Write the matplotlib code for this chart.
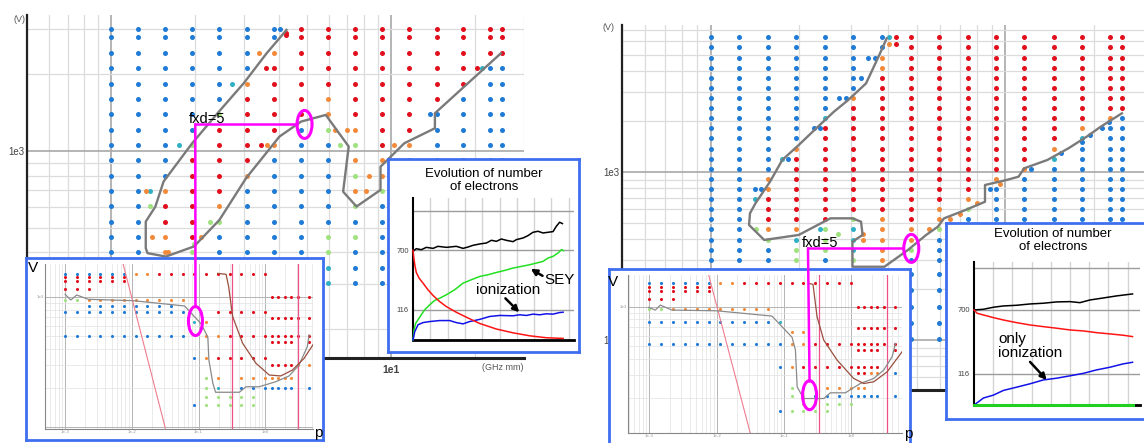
import matplotlib
matplotlib.use("Agg")
import matplotlib.pyplot as plt
from matplotlib.patches import Ellipse, ConnectionPatch
from matplotlib.transforms import ScaledTranslation
from matplotlib.ticker import LogLocator, NullFormatter, NullLocator

plt.rcParams["font.family"] = ["Liberation Sans", "DejaVu Sans"]

# ---------------------------------------------------------------- data
# f*d sampling columns (GHz mm), shared by both maps
fd_cols = [1.0, 1.25, 1.56, 1.95, 2.44, 3.05, 3.81, 4.77, 5.96, 7.45,
           9.31, 11.6, 14.6, 18.2, 22.7, 25.0]

# left map: voltage rows (V) and outcome code per column
# b = no discharge, r = multipactor, o / g / c = transition cases
left_rows = [3000, 2786, 2425, 2111, 1838, 1600, 1393, 1213, 1056, 919,
             800, 696, 606, 528, 459, 400, 348, 303]
left_codes = [
    "bbbbbbbrrrrrrrrr",
    "bbbbbbbrrrrrrrrr",
    "bbbbbborrrrrrrrr",
    "bbbbbbrrrrrrrrbb",
    "bbbbborrrrrrrrbb",
    "bbbbbrrrorrrrbbb",
    "bbbbgrrrorrrbbbb",
    "bbbbrrrbgorrbbbb",
    "bbbgrrobbgrobbbb",
    "bbbrrrbbboobbbbb",
    "bbbrrobbbgobbbbb",
    "bborrbbbbogbbbbb",
    "bbrrobbbbgbbbbbb",
    "bbrrgbbbbbbbbbbb",
    "bborbbbbggbbbbbb",
    "bbogbbbbgbbbbbbb",
    "bbbbbbbbcbbbbbbb",
    "bbbbbbbbcbbbbbbb",
]
# refined samples taken near the boundary
left_extra_fd = [4.02, 4.24, 4.24, 3.38, 3.59, 2.71, 3.43, 3.60, 6.34, 6.97,
                 6.60, 8.17, 8.40, 10.3, 13.8, 20.3, 21.3, 1.33, 1.38, 1.75,
                 1.38, 1.40, 1.60, 1.98, 2.10, 2.25]
left_extra_v = [3000, 2900, 2850, 2425, 2111, 1838, 1056, 1056, 1213, 1213,
                1056, 696, 800, 1056, 1393, 2111, 2111, 696, 696, 1056,
                606, 459, 400, 430, 459, 528]
left_extra_c = "brrorcrooogooobrcoccgoogog"
# multipactor boundary
left_bound_fd = [4.24, 3.60, 2.98, 2.43, 1.95, 1.54, 1.44, 1.33, 1.33, 1.35,
                 1.57, 1.98, 2.44, 3.04, 4.00, 4.78, 5.86, 7.08, 6.76, 7.55,
                 9.2, 9.2, 11.2, 14.4, 14.4, 24.8]
left_bound_v = [2982, 2415, 1842, 1426, 1072, 758, 605, 528, 415, 397,
                385, 422, 536, 782, 1138, 1303, 1384, 1040, 692, 605,
                703, 867, 1072, 1227, 1405, 2415]

# right map
right_rows = [6334, 5514, 4800, 4179, 3638, 3167, 2757, 2400, 2089, 1819,
              1583, 1378, 1200, 1045, 909, 792, 689, 600, 522, 455,
              396, 345, 300, 247, 198, 158, 126, 101]
right_codes = [
    "bbbbbbbrrrrrrrrr",
    "bbbbbbbrrrrrrrrr",
    "bbbbbborrrrrrrrr",
    "bbbbbborrrrrrrrr",
    "bbbbbbrrrrrrrrrr",
    "bbbbbbrrrrrrrrrr",
    "bbbbborrrrrrrrrr",
    "bbbbbrrrrrrrrrrr",
    "bbbbcrrrrrrrrrob",
    "bbbbrrrrrrrrrobb",
    "bbbbrrrrrrrrrcbb",
    "bbborrrrrrrrobbb",
    "bbbrrrrrrrrrcbbb",
    "bbbrrrrrrrrobbbb",
    "bborrrrrrrobbbbb",
    "bborrrrrrrbbbbbb",
    "bbrrrrrrrobbbbbb",
    "bbrrrrrrogbbbbbb",
    "bbrrrgorobbbbbbb",
    "bboogcoogbbbbbbb",
    "bbgcgcoobbbbbbbb",
    "bbbggcogbbbbbbbb",
    "bbbgbgobbbbbbbbb",
    "bbbbbbbbbbbbbbbb",
    "bbbbbbbbbbbbbbbb",
    "bbbbbbbbbbbbbbbb",
    "bbbbbbbbbbbbbbbb",
    "bbbbbbbbbbbbbbbb",
]
right_extra_fd = [3.42, 3.61, 3.23, 2.73, 2.89, 2.25, 2.35, 1.75, 1.83, 1.41,
                  1.48, 1.41, 8.9, 12.2, 15.5, 18.3, 19.4, 21.3, 22.6, 4.03,
                  4.26, 4.26, 4.03, 1.42, 2.35, 2.70, 3.30, 3.30, 5.5, 6.5,
                  7.0, 8.0, 9.6]
right_extra_v = [4800, 4800, 3638, 2757, 2757, 1819, 1819, 1200, 1200, 792,
                 792, 689, 792, 1045, 1300, 1500, 1650, 1819, 1980, 6334,
                 6334, 5800, 5800, 455, 455, 430, 430, 396, 455, 522,
                 560, 650, 850]
right_extra_c = "bbbbbbbcbbbcbbbbbbbcrrogcgoooooooc"
right_bound_fd = [3.96, 3.76, 3.37, 2.93, 2.62, 2.22, 1.99, 1.75, 1.59, 1.42,
                  1.36, 1.35, 1.52, 1.99, 2.55, 3.03, 3.24, 3.28, 3.03, 3.03,
                  3.89, 4.67, 5.39, 5.91, 6.2, 7.33, 8.54, 8.54, 10.1, 11.1,
                  11.6, 13.9, 16.4, 18.9, 21.1, 24.9]
right_bound_v = [6250, 5090, 3370, 2680, 2285, 1738, 1447, 1179, 875, 652,
                 568, 484, 394, 422, 530, 530, 506, 422, 385, 273,
                 273, 343, 422, 473, 530, 594, 665, 837, 896, 938,
                 1052, 1179, 1384, 1622, 1860, 2235]

# pressure maps (inset): pressure columns and rows
p_cols = [0.001, 0.0015, 0.00225, 0.00338, 0.00506, 0.00759, 0.0114, 0.0171,
          0.0256, 0.0384, 0.0577, 0.0865, 0.130, 0.195, 0.292, 0.438, 0.657, 0.985]
p_fine = [1.25, 1.56, 1.95, 2.44, 3.05, 4.5]

lmap_rows = [1500, 1417, 1335, 1146, 948, 853, 763, 639, 501, 337, 237, 200, 171, 148]
lmap_codes = [
    "bbbbbboorrrrrrrrrr",
    "rrrrrr............",
    "rrrrrr............",
    "rrr...............",
    "ggooooooooo.......",
    "..bbbbbbbb........",
    "bbbbbbbbbbb..rrrrr",
    "...........co.....",
    "bbbbbbbbbbb.oorrrr",
    "...........borrrrr",
    "............go.ooo",
    "............gc.bbb",
    "............ggggg.",
    "...........bggggg.",
]
lmap_fine_rows = [1000, 690, 501, 453, 300, 237, 200]
lmap_fine_codes = ["rrrrrr", "rrrrrr", "rrrrrr", "rrrr.r", "rrrroo", "oooo..", "bbbb.b"]
lmap_bound_p = [0.001, 0.00122, 0.00149, 0.00223, 0.0105, 0.0618, 0.0822, 0.11,
                0.138, 0.143, 0.164, 0.18, 0.41, 0.515, 0.813, 1.44, 2.28, 3.21, 4.28, 4.54]
lmap_bound_v = [1049, 948, 1036, 960, 937, 853, 728, 620, 490, 327, 217, 185,
                185, 204, 204, 223, 247, 300, 415, 511]
lmap_curve_p = [0.194, 0.259, 0.283, 0.325, 0.458, 0.726, 1.15, 1.71, 2.55, 3.82, 5.38]
lmap_curve_v = [1520, 1494, 1200, 706, 441, 309, 251, 247, 274, 337, 441]
lmap_line_p = [0.0074, 0.0318]
lmap_line_v = [1800, 98]
lmap_marks = [0.314, 3.14]

rmap_rows = [1513, 1410, 1328, 1140, 955, 758, 640, 514, 346, 236, 207, 179, 157]
rmap_codes = [
    "bbbbbboorrrrrrrrrr",
    "rrrrrr............",
    "rrrrrr............",
    "rrr...............",
    "ggooooooooo.......",
    "bbbbbbbbbbbc......",
    "............oo....",
    "bbbbbbbbbbbboorrrr",
    "...........borrrrr",
    "............gboooo",
    "............ggbbbb",
    ".............ggggg",
    "...........bgggg..",
]
rmap_fine_rows = [1000, 682, 514, 464, 346, 307, 236, 207]
rmap_fine_codes = ["rrrrrr", "rrrrrr", "rrrrrr", "rrrr.r", "rrrr..", "rroo.b", "oo....", "bbbb.b"]
rmap_bound_p = [0.000977, 0.00123, 0.00146, 0.00217, 0.0101, 0.0665, 0.0938, 0.132,
                0.148, 0.157, 0.196, 0.389, 0.489, 0.817, 1.36, 2.15, 3.03, 4.04, 4.53]
rmap_bound_v = [990, 943, 1030, 943, 931, 848, 702, 582, 464, 242, 197, 197,
                218, 218, 257, 281, 326, 413, 523]
rmap_curve_p = [0.233, 0.270, 0.310, 0.389, 0.615, 1.086, 1.531, 2.153, 3.404, 5.662]
rmap_curve_v = [1513, 1487, 838, 555, 389, 281, 257, 265, 316, 450]
rmap_line_p = [0.0076, 0.0317]
rmap_line_v = [1760, 106]
rmap_marks = [0.33, 3.35]

# electron population versus time, SEY + ionization run
evoL_black_t = [0, 1.9, 4.8, 7.7, 11.6, 14.4, 19.3, 25, 28.9, 31.8, 34.7, 38.5, 42.4, 45.3,
                48.2, 51, 53.9, 57.8, 59.7, 63.6, 66.4, 69.3, 72.2, 75.1, 78, 80.9, 82.8,
                84.7, 86.3]
evoL_black = [680, 736, 714, 766, 743, 790, 766, 790, 743, 774, 815, 848, 874, 948,
              919, 986, 948, 910, 967, 1017, 1091, 1207, 1245, 1183, 1207, 1233, 1449,
              1635, 1570]
evoL_red_t = [0, 0.6, 1.2, 1.9, 3.5, 5.8, 8.7, 11.6, 15.4, 19.3, 25, 30.8, 38.5, 48.2,
              57.8, 67.4, 77, 86.7]
evoL_red = [700, 527, 431, 359, 303, 260, 212, 179, 149, 128, 108, 93, 77, 65,
            58, 53, 50, 49]
evoL_green_t = [0, 0.6, 1.5, 2.9, 4.8, 6.7, 9.6, 12.5, 15.4, 19.3, 24.1, 28.9, 33.7, 38.5,
                43.3, 48.2, 53, 57.8, 62.6, 67.4, 71.3, 75.1, 78, 80.9, 83.8, 85.7, 87]
evoL_green = [46.7, 63, 77, 86, 100, 116, 135, 154, 165, 183, 213, 260, 288, 318,
              335, 359, 382, 410, 431, 453, 477, 501, 555, 584, 646, 714, 693]
evoL_blue_t = [0, 1, 2.9, 5.8, 9.6, 15.4, 21.2, 25, 28.9, 32.7, 38.5, 44.3, 50.1, 57.8,
               61.6, 65.5, 69.3, 73.2, 77, 80.9, 84.7, 86.7]
evoL_blue = [46.7, 60, 74, 79, 81.5, 84, 84, 79, 76, 81.5, 87, 95, 98, 97,
             100, 98, 102, 100, 103, 102, 107, 108]

# ionization-only run
evoR_black_t = [0, 4.9, 10.1, 15.3, 22.2, 29.2, 36.1, 43.1, 50, 55.2, 60.4, 67.4, 74.3, 82.6]
evoR_black = [700, 713, 755, 783, 798, 828, 845, 877, 884, 859, 926, 980, 1038, 1097]
evoR_red_t = [0, 1.6, 4.9, 10.1, 15.3, 22.2, 29.2, 36.1, 43.1, 50, 57, 63.9, 70.8, 77.8, 82.6]
evoR_red = [700, 638, 608, 564, 528, 490, 459, 438, 419, 399, 388, 370, 357, 344, 331]
evoR_blue_t = [0, 2.3, 4.9, 10.1, 15.3, 22.2, 29.2, 36.1, 43.1, 50, 57, 63.9, 70.8, 77.8, 82.6]
evoR_blue = [48.5, 53, 59, 64, 73, 80, 88, 98, 103, 110, 118, 130, 140, 154, 161]
evoR_green_t = [0, 82.6]
evoR_green = [48.5, 48.5]

# ---------------------------------------------------------------- style
W, H = 1144, 443
fig = plt.figure(figsize=(W / 100, H / 100), dpi=100)

DOT = {"b": "#1f7bd6", "c": "#2fb0c4", "r": "#e2101c", "o": "#f28a3a", "g": "#9fe27e"}
BORDER = "#3f6ff0"
MAGENTA = "#ff00ff"
GRAYLINE = "#7a7a7a"


def frame(x0, y0, x1, y1):
    """Pixel box with top-left origin -> figure-fraction rect."""
    return [x0 / W, 1 - y1 / H, (x1 - x0) / W, (y1 - y0) / H]


def pos(x, y):
    return x / W, 1 - y / H


def grid_dots(ax, cols, rows, codes, size):
    pts = {k: ([], []) for k in DOT}
    for v, line in zip(rows, codes):
        for p, c in zip(cols, line):
            if c in DOT:
                pts[c][0].append(p)
                pts[c][1].append(v)
    for c, (xs, ys) in pts.items():
        if xs:
            ax.scatter(xs, ys, s=size, color=DOT[c], linewidths=0, zorder=2)


def loose_dots(ax, xs, ys, codes, size):
    for c in DOT:
        sel = [(p, v) for p, v, k in zip(xs, ys, codes) if k == c]
        if sel:
            ax.scatter([s[0] for s in sel], [s[1] for s in sel], s=size,
                       color=DOT[c], linewidths=0, zorder=2)


def log_grid(ax, major_c, minor_c, major_lw, minor_lw):
    for axis in (ax.xaxis, ax.yaxis):
        axis.set_minor_locator(LogLocator(10, subs=range(2, 10), numticks=30))
        axis.set_minor_formatter(NullFormatter())
    ax.grid(True, which="major", color=major_c, lw=major_lw)
    ax.grid(True, which="minor", color=minor_c, lw=minor_lw)
    ax.set_axisbelow(True)
    ax.tick_params(which="both", length=0)


def ring(ax, x, y, w_px, h_px):
    e = Ellipse((0, 0), w_px / 100, h_px / 100, fill=False, ec=MAGENTA, lw=2.2,
                transform=fig.dpi_scale_trans + ScaledTranslation(x, y, ax.transData),
                zorder=5)
    fig.add_artist(e)


def white_box(box):
    b = fig.add_axes(frame(*box), zorder=2)
    b.set_xticks([])
    b.set_yticks([])
    b.set_facecolor("white")
    for s in b.spines.values():
        s.set_color(BORDER)
        s.set_linewidth(2)
    return b


# ---------------------------------------------------------------- f*d maps
def fd_map(box, xlim, ylim, rows, codes, ex_fd, ex_v, ex_c, b_fd, b_v):
    ax = fig.add_axes(frame(*box), zorder=1)
    ax.set_xscale("log")
    ax.set_yscale("log")
    ax.set_xticks([1, 10], labels=["", "1e1"])
    ax.set_yticks([100, 1000], labels=["1e2", "1e3"])
    log_grid(ax, "#a8a8a8", "#dcdcdc", 1.2, 0.9)
    ax.set_xlim(*xlim)
    ax.set_ylim(*ylim)
    ax.tick_params(axis="x", labelsize=7.5, labelcolor="#444", pad=5)
    ax.tick_params(axis="y", labelsize=7, labelcolor="#444", pad=2)
    for lab in ax.get_xticklabels():
        lab.set_fontweight("bold")
    for side in ("top", "right"):
        ax.spines[side].set_visible(False)
    ax.spines["left"].set_color("#222")
    ax.spines["left"].set_linewidth(1.6)
    ax.spines["bottom"].set_color("#222")
    ax.spines["bottom"].set_linewidth(2.2)
    grid_dots(ax, fd_cols, rows, codes, 13)
    loose_dots(ax, ex_fd, ex_v, ex_c, 13)
    ax.plot(b_fd, b_v, color=GRAYLINE, lw=1.7, zorder=3)
    ax.annotate("(GHz mm)", xy=(1, 0), xycoords="axes fraction", xytext=(0, -7),
                textcoords="offset points", ha="right", va="center",
                fontsize=6.5, color="#555")
    return ax


axL = fd_map((27, 15, 524, 358), (0.5, 30), (154, 3413), left_rows, left_codes,
             left_extra_fd, left_extra_v, left_extra_c, left_bound_fd, left_bound_v)
axR = fd_map((622, 25, 1144, 390), (0.5, 29.6), (50.4, 7500), right_rows, right_codes,
             right_extra_fd, right_extra_v, right_extra_c, right_bound_fd, right_bound_v)
fig.text(*pos(19, 19), "(V)", ha="center", va="center", fontsize=6.5, color="#555")
fig.text(*pos(609, 27), "(V)", ha="center", va="center", fontsize=6.5, color="#555")


# ---------------------------------------------------------------- pressure insets
def pv_inset(box, axbox, xlim, ylim, rows, codes, frows, fcodes,
             bp, bv, cp, cv, lp, lv, marks, vxy, pxy):
    white_box(box)
    ax = fig.add_axes(frame(*axbox), zorder=3)
    ax.set_xscale("log")
    ax.set_yscale("log")
    ax.set_xticks([1e-3, 1e-2, 1e-1, 1], labels=["1e-3", "1e-2", "1e-1", "1e0"])
    ax.set_yticks([100, 1000], labels=["", "1e3"])
    log_grid(ax, "#b4b4b4", "#e2e2e2", 0.7, 0.5)
    ax.set_xlim(*xlim)
    ax.set_ylim(*ylim)
    ax.tick_params(labelsize=3.2, labelcolor="#999", pad=1)
    for side in ("top", "right"):
        ax.spines[side].set_visible(False)
    for side in ("left", "bottom"):
        ax.spines[side].set_color("#888")
        ax.spines[side].set_linewidth(0.8)
    grid_dots(ax, p_cols, rows, codes, 5)
    grid_dots(ax, p_fine, frows, fcodes, 5)
    for m in marks:
        ax.axvline(m, color="#f0508a", lw=0.9, zorder=3)
    ax.plot(lp, lv, color="#ee7c8e", lw=0.8, zorder=3)
    ax.plot(bp, bv, color="#8a8a8a", lw=0.9, zorder=4)
    ax.plot(cp, cv, color="#9a4e3e", lw=0.9, zorder=4)
    fig.text(*pos(*vxy), "V", ha="center", va="center", fontsize=11, zorder=6)
    fig.text(*pos(*pxy), "p", ha="center", va="center", fontsize=11, zorder=6)
    return ax


insL = pv_inset((26, 258, 323, 440), (45, 264, 313, 429), (5.0e-4, 5.2), (96.5, 1794),
                lmap_rows, lmap_codes, lmap_fine_rows, lmap_fine_codes,
                lmap_bound_p, lmap_bound_v, lmap_curve_p, lmap_curve_v,
                lmap_line_p, lmap_line_v, lmap_marks, (33, 268), (318, 433))
insR = pv_inset((609, 269, 910, 447), (628, 275, 902, 433), (4.83e-4, 5.66), (107, 1755),
                rmap_rows, rmap_codes, rmap_fine_rows, rmap_fine_codes,
                rmap_bound_p, rmap_bound_v, rmap_curve_p, rmap_curve_v,
                rmap_line_p, rmap_line_v, rmap_marks, (613, 282), (908, 434))


# ---------------------------------------------------------------- electron evolution insets
def evo_inset(box, axbox, title_xy, ylim, xmax, curves):
    white_box(box)
    ax = fig.add_axes(frame(*axbox), zorder=3)
    ax.set_yscale("log")
    ax.set_ylim(*ylim)
    ax.set_xlim(0, xmax)
    ax.set_yticks([116, 700, 2280], labels=["116", "700", ""])
    ax.yaxis.set_minor_locator(NullLocator())
    ax.set_xticks([t for t in range(10, 100, 10) if t < xmax], labels=[])
    ax.grid(True, axis="x", color="#d4d4d4", lw=1)
    ax.grid(True, axis="y", color="#9c9c9c", lw=1)
    ax.set_axisbelow(True)
    ax.tick_params(length=0, labelsize=5.5, labelcolor="#444", pad=3)
    for side in ("top", "right"):
        ax.spines[side].set_visible(False)
    ax.spines["left"].set_color("black")
    ax.spines["left"].set_linewidth(1.5)
    ax.spines["bottom"].set_color("black")
    ax.spines["bottom"].set_linewidth(2)
    for t, v, c, lw in curves:
        ax.plot(t, v, color=c, lw=lw, zorder=3, clip_on=False)
    fig.text(*pos(*title_xy), "Evolution of number\nof electrons", ha="center",
             va="center", fontsize=9.5, zorder=6)
    return ax


evoL = evo_inset((388, 159, 579, 352), (413, 198, 574, 340), (484, 180.5), (46.7, 3400), 93,
                 [(evoL_black_t, evoL_black, "black", 1.1),
                  (evoL_green_t, evoL_green, "#22e022", 1.1),
                  (evoL_blue_t, evoL_blue, "#1212e8", 1.1),
                  (evoL_red_t, evoL_red, "#ff1414", 1.1)])
evoR = evo_inset((946, 223, 1160, 419), (974, 262, 1140, 405), (1053, 240.5), (48.5, 2690), 86.5,
                 [(evoR_black_t, evoR_black, "black", 1.1),
                  (evoR_red_t, evoR_red, "#ff1414", 1.1),
                  (evoR_blue_t, evoR_blue, "#1212e8", 1.1),
                  (evoR_green_t, evoR_green, "#22d022", 2.2)])

arrow = dict(arrowstyle="-|>", color="black", lw=1.8, mutation_scale=9,
             shrinkA=0, shrinkB=0)
fig.text(*pos(560, 280), "SEY", ha="center", va="center", fontsize=11, zorder=6)
evoL.annotate("", xy=(68, 400), xytext=(8.5, -5), textcoords="offset points",
              arrowprops=arrow, zorder=6)
fig.text(*pos(508, 290), "ionization", ha="center", va="center", fontsize=11, zorder=6)
evoL.annotate("", xy=(61.4, 108), xytext=(-10, 10), textcoords="offset points",
              arrowprops=arrow, zorder=6)
fig.text(*pos(998, 346), "only\nionization", ha="left", va="center", fontsize=11,
         linespacing=1.05, zorder=6)
evoR.annotate("", xy=(37.9, 98), xytext=(-12, 13), textcoords="offset points",
              arrowprops=arrow, zorder=6)

# ---------------------------------------------------------------- f*d = 5 markers
def fxd_marker(ax, ins, fd, v, ring_fd, ring_end, p_top, p_ring, v_ring, v_top):
    ax.plot([fd, ring_end], [v, v], color=MAGENTA, lw=1.8, zorder=5)
    ring(ax, ring_fd, v, 15, 28)
    ax.annotate("fxd=5", xy=(fd, v), xytext=(-4.5, -1), textcoords="offset points",
                ha="left", va="bottom", fontsize=10.5, zorder=6)
    con = ConnectionPatch(xyA=(fd, v), coordsA=ax.transData,
                          xyB=(p_top, v_top), coordsB=ins.transData,
                          color=MAGENTA, lw=1.8, shrinkA=0, shrinkB=0, zorder=5)
    fig.add_artist(con)
    ring(ins, p_ring, v_ring, 14, 29)


fxd_marker(axL, insL, 2.0, 1270, 4.92, 4.62, 0.090, 0.090, 653, 853)
fxd_marker(axR, insR, 2.14, 351, 4.80, 4.50, 0.24, 0.24, 209, 266)

fig.savefig("out.png", dpi=100)
